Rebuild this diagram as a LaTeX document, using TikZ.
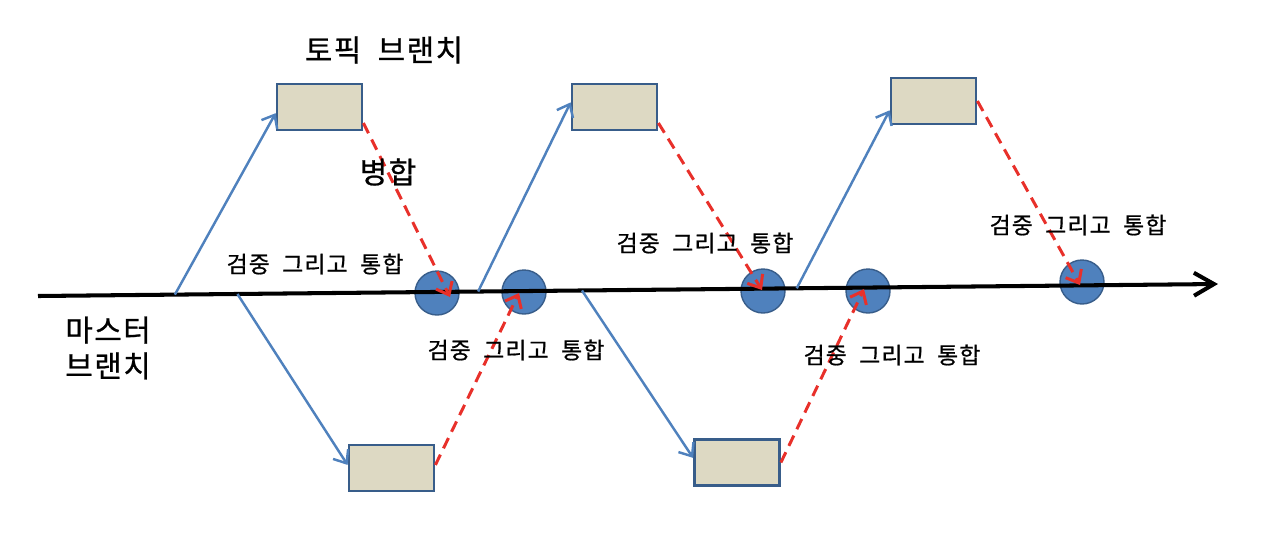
\documentclass[tikz,border=0pt]{standalone}
\usepackage{fontspec}
\newfontfamily\krfont{Noto Sans CJK KR}[WordSpace=2,LetterSpace=5,FakeBold=0.8]
\usetikzlibrary{arrows.meta,calc,positioning}
\definecolor{BranchBlue}{HTML}{4F81BD}
\definecolor{BranchEdge}{HTML}{385D8A}
\definecolor{BranchSand}{HTML}{DDD9C3}
\definecolor{MergeRed}{HTML}{E8302A}

\begin{document}
\begin{tikzpicture}[x=0.02cm,y=-0.02cm,font=\krfont,
    topic/.style={draw=BranchEdge,line width=1.6pt,fill=BranchSand,
      minimum width=1.7cm,minimum height=0.92cm,inner sep=0pt},
    check/.style={circle,draw=BranchEdge,line width=0.8pt,fill=BranchBlue,
      minimum size=0.88cm,inner sep=0pt},
    fork/.style={draw=BranchBlue,line width=1.4pt,
      -{Straight Barb[length=2.2mm,width=3.6mm]}},
    merge/.style={draw=MergeRed,line width=1.7pt,dash pattern=on 6.5pt off 4pt,
      -{Straight Barb[length=2.2mm,width=3.6mm]}},
    tag/.style={font=\krfont\fontsize{13}{15}\selectfont,inner sep=0pt},
    title/.style={font=\krfont\fontsize{17}{20.4}\selectfont,inner sep=0pt,align=left}]
  \useasboundingbox (0,0) rectangle (1275,539);

  % check-and-merge points
  \node[check] (c1) at (437,293) {};
  \node[check] (c2) at (524,292) {};
  \node[check] (c3) at (763,291) {};
  \node[check] (c4) at (868,291) {};
  \node[check] (c5) at (1082,282) {};

  % master branch
  \coordinate (ms) at (38,296);
  \coordinate (me) at (1218,284);
  \draw[line width=2.3pt,-{Straight Barb[length=4mm,width=4.6mm]}] (ms) -- (me);
  \coordinate (f1) at ($(ms)!0.116!(me)$);
  \coordinate (f2) at ($(ms)!0.169!(me)$);
  \coordinate (f3) at ($(ms)!0.373!(me)$);
  \coordinate (f4) at ($(ms)!0.461!(me)$);
  \coordinate (f5) at ($(ms)!0.643!(me)$);

  % topic branches
  \node[topic] (t1) at (319.5,107) {};
  \node[topic] (t2) at (614.5,107) {};
  \node[topic] (t3) at (933.5,101) {};
  \node[topic] (t4) at (391.5,468) {};
  \node[topic] (t5) at (737,462.5) {};

  \draw[fork] (f1) -- (t1.188);
  \draw[fork] (f2) -- (t4.176);
  \draw[fork] (f3) -- (t2.174);
  \draw[fork] (f4) -- (t5.174);
  \draw[fork] (f5) -- (t3.192);

  \coordinate (m1) at (450,297);
  \coordinate (m2) at (519,293);
  \coordinate (m3) at (762,290);
  \coordinate (m4) at (864,289);
  \coordinate (m5) at (1080,285);
  \draw[merge] (t1.-20) -- (m1);
  \draw[merge] (t4.4) -- (m2);
  \draw[merge] (t2.-20) -- (m3);
  \draw[merge] (t5.east) -- (m4);
  \draw[merge] (t3.east) -- (m5);

  % labels
  \node[title] (topiclabel) at (384,50) {토픽 브랜치};
  \node[title] (mergelabel) at (388,172) {병합};
  \node[title,anchor=west] (masterlabel) at (65,348) {마스터\\브랜치};
  \node[tag] (v1) at (315,264) {검중 그리고 통합};
  \node[tag] (v2) at (516,350) {검중 그리고 통합};
  \node[tag] (v3) at (705,243) {검중 그리고 통합};
  \node[tag] (v4) at (892,355) {검중 그리고 통합};
  \node[tag] (v5) at (1078,225) {검중 그리고 통합};
\end{tikzpicture}
\end{document}
